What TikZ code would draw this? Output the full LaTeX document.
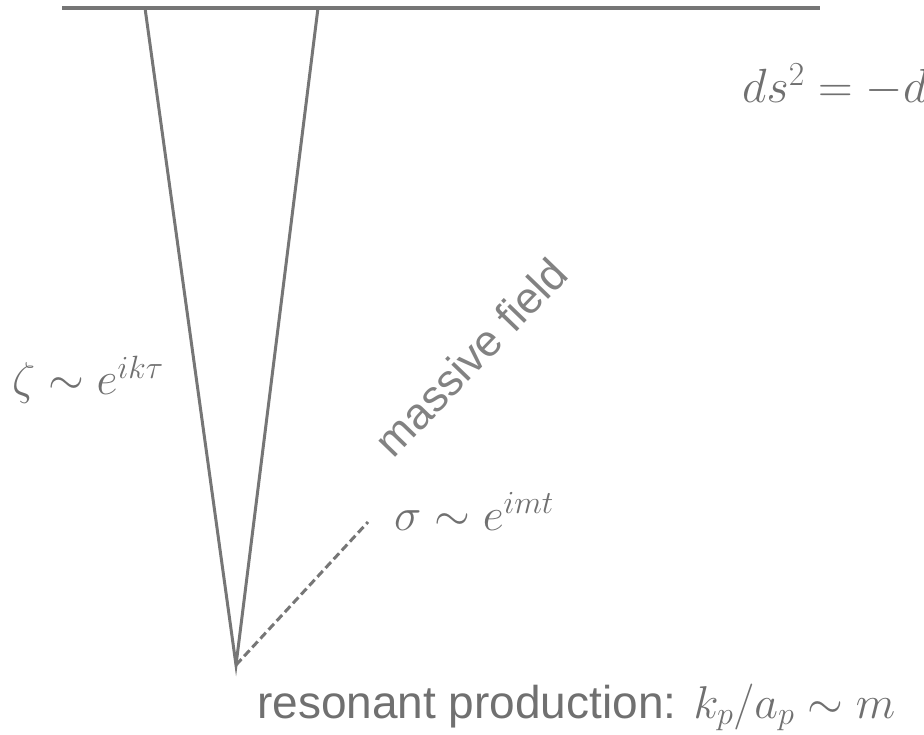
\documentclass[tikz,border=0pt]{standalone}
\usepackage{fix-cm}
\usepackage{fontspec}
\usepackage{amsmath}
\usepackage{tikz}
\usetikzlibrary{positioning, calc}
\newfontfamily\labelfont{Liberation Sans}
\definecolor{mygray}{RGB}{118,118,118}
\definecolor{mytext}{RGB}{112,112,112}
\definecolor{mylight}{RGB}{130,130,130}
\tikzset{
  line/.style={draw=mygray, line width=3pt},
  wall/.style={draw=mygray, line width=3.5pt},
  dline/.style={draw=mygray, line width=3pt, dash pattern=on 8pt off 4pt},
  mathlbl/.style={text=mytext, inner sep=0pt, font=\fontsize{46}{50}\selectfont},
  sanslbl/.style={text=mytext, inner sep=0pt, font=\labelfont\fontsize{44}{50}\selectfont}
}
\begin{document}
\begin{tikzpicture}[x=1pt, y=-1pt]
  \useasboundingbox (0,0) rectangle (924,735);
  \clip (0,0) rectangle (924,735);
  % end of inflation surface
  \coordinate (bl) at (62,8);
  \coordinate (br) at (820,8);
  \draw[wall] (bl) -- (br);

  % vertex and legs
  \coordinate (vtx) at (236,665);
  \coordinate (lt) at (145,8);
  \coordinate (rt) at (318,8);
  \coordinate (mend) at (368,522);
  \draw[line] (lt) -- (vtx) -- (rt);
  \draw[dline] (vtx) -- (mend);

  % labels
  \node[mathlbl, anchor=base west, font=\fontsize{48}{52}\selectfont] (metric) at (742,103) {$ds^2 = -d$};
  \node[mathlbl, anchor=base west] (zeta) at (12,395) {$\zeta \sim e^{ik\tau}$};
  \node[mathlbl, anchor=base west] (sigma) at (394,530) {$\sigma \sim e^{imt}$};
  \node[sanslbl, text=mylight, anchor=base, rotate=46] (massive) at (482,368) {massive field};
  \node[sanslbl, anchor=base west, font=\labelfont\fontsize{46}{50}\selectfont] (reson) at (257,718) {resonant production: $k_p/a_p \sim m$};
\end{tikzpicture}
\end{document}
